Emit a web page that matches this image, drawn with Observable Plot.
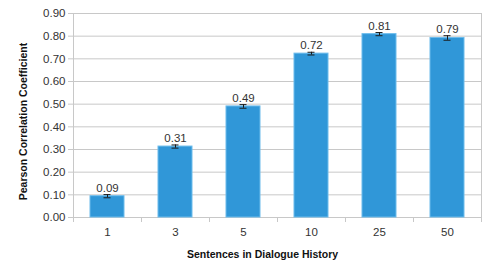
<!DOCTYPE html>
<html><head><meta charset="utf-8">
<script src="https://cdn.jsdelivr.net/npm/d3@7"></script>
<script src="https://cdn.jsdelivr.net/npm/@observablehq/plot@0.6"></script>
<style>body{margin:0;background:#fff} svg{display:block}</style>
</head><body><div id="chart"></div>
<script>
const categories = ["1", "3", "5", "10", "25", "50"];
const values = [0.094, 0.313, 0.49, 0.723, 0.809, 0.792];
const errors = [0.007, 0.007, 0.008, 0.006, 0.007, 0.01];
const valueLabels = ["0.09", "0.31", "0.49", "0.72", "0.81", "0.79"];
const yTicks = [0, 0.1, 0.2, 0.3, 0.4, 0.5, 0.6, 0.7, 0.8, 0.9];
const xTitle = "Sentences in Dialogue History";
const yTitle = "Pearson Correlation Coefficient";

const data = categories.map((c, i) => ({c, v: values[i], e: errors[i], label: valueLabels[i]}));
const first = categories[0], last = categories[categories.length - 1];
const grid = "#c8c8c8";
const font = "'Liberation Sans', Arial, sans-serif";

const chart = Plot.plot({
  width: 491, height: 276,
  marginLeft: 73, marginRight: 10, marginTop: 13, marginBottom: 59,
  style: {fontFamily: font, fontSize: "11.5px", color: "#333", background: "#fff"},
  x: {domain: categories, paddingInner: 0.5, paddingOuter: 0.25, label: null},
  y: {domain: [0, 0.9], label: null},
  marks: [
    Plot.gridY(yTicks, {stroke: grid, strokeOpacity: 1}),
    Plot.axisY(yTicks, {tickFormat: ".2f", tickSize: 5, tickPadding: 3, stroke: grid, fill: "#333", fontSize: 11.5}),
    Plot.axisX({tickSize: 0, tickPadding: 10, fill: "#333", fontSize: 11.5, label: null}),
    Plot.ruleX([first], {x: d => d, dx: -34, y1: 0, y2: 0.9, stroke: grid}),
    Plot.ruleX([last], {x: d => d, dx: 34, y1: 0, y2: 0.9, stroke: grid}),
    Plot.ruleX(categories, {x: d => d, dx: -34, y1: 0, y2: 0, insetBottom: -5, stroke: grid}),
    Plot.ruleX([last], {x: d => d, dx: 34, y1: 0, y2: 0, insetBottom: -5, stroke: grid}),
    Plot.ruleY([0], {stroke: grid}),
    Plot.barY(data, {x: "c", y: "v", fill: "#3097d8", stroke: "#6dbcec", strokeWidth: 1}),
    Plot.ruleX(data, {x: "c", y1: d => d.v - d.e, y2: d => d.v + d.e, stroke: "#1a1a1a"}),
    Plot.tickY(data, {x: "c", y: d => d.v - d.e, stroke: "#1a1a1a", insetLeft: 13.5, insetRight: 13.5}),
    Plot.tickY(data, {x: "c", y: d => d.v + d.e, stroke: "#1a1a1a", insetLeft: 13.5, insetRight: 13.5}),
    Plot.text(data, {x: "c", y: d => d.v + d.e, text: "label", lineAnchor: "bottom", dy: -3, fill: "#333", fontSize: 11.5}),
    Plot.text([xTitle], {frameAnchor: "bottom", text: d => d, dy: 37, dx: -15, fontWeight: "bold", fontSize: 10.5, fill: "#111", lineAnchor: "middle"}),
    Plot.text([yTitle], {frameAnchor: "left", text: d => d, rotate: -90, dx: -50, dy: 6, textAnchor: "middle", fontWeight: "bold", fontSize: 10.5, fill: "#111", lineAnchor: "middle"})
  ]
});
document.getElementById("chart").append(chart);
</script>
</body></html>
